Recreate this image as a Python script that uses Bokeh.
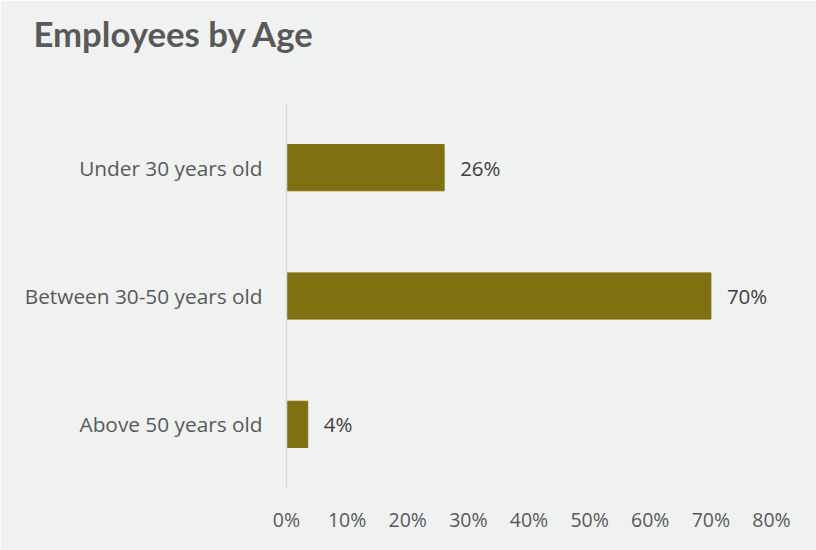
from bokeh.plotting import figure
from bokeh.models import ColumnDataSource, Range1d, FactorRange, NumeralTickFormatter, FixedTicker, Title
from bokeh.embed import file_html
from bokeh.resources import INLINE
from bokeh.core.properties import value

title_text = "Employees by Age"
categories = ["Under 30 years old", "Between 30-50 years old", "Above 50 years old"]
shares = [0.26, 0.70, 0.035]
x_ticks = [0.0, 0.1, 0.2, 0.3, 0.4, 0.5, 0.6, 0.7, 0.8]

labels = [f"{v * 100:.0f}%" for v in shares]
src = ColumnDataSource(dict(cat=categories, val=shares, lab=labels))

BG = "#F0F2F2"
TXT = "#595959"

p = figure(width=816, height=550, output_backend="svg", toolbar_location=None, title=None,
           y_range=FactorRange(*categories[::-1], range_padding=0),
           x_range=Range1d(0, 0.8),
           min_border_left=286, min_border_right=45, min_border_top=103, min_border_bottom=62)
p.background_fill_color = BG
p.border_fill_color = BG
p.outline_line_color = None

p.hbar(y="cat", right="val", left=0, height=0.36, source=src,
       fill_color="#7F7111", line_color="#7F7111")
p.text(x="val", y="cat", text="lab", source=src, x_offset=16,
       text_align="left", text_baseline="middle",
       text_font=value("Open Sans"), text_font_size="20.5px", text_color="#404040")

# spacer between the title and the plot area
p.add_layout(Title(text=" ", text_font_size="1px", standoff=37), "above")
p.add_layout(Title(text=title_text, text_font="Lato", text_font_style="bold",
                   text_font_size="34.7px", text_color=TXT, align="left",
                   offset=-253, standoff=20), "above")

p.xgrid.visible = False
p.ygrid.visible = False

p.xaxis.ticker = FixedTicker(ticks=x_ticks)
p.xaxis.formatter = NumeralTickFormatter(format="0%")
p.xaxis.axis_line_color = None
p.xaxis.major_tick_line_color = None
p.xaxis.minor_tick_line_color = None
p.xaxis.major_tick_out = 0
p.xaxis.minor_tick_out = 0
p.xaxis.major_label_standoff = 17
p.xaxis.major_label_text_font = "Open Sans"
p.xaxis.major_label_text_font_size = "19.5px"
p.xaxis.major_label_text_color = TXT

p.yaxis.axis_line_color = "#D9D9D9"
p.yaxis.axis_line_width = 1.5
p.yaxis.major_tick_line_color = None
p.yaxis.minor_tick_line_color = None
p.yaxis.major_tick_out = 0
p.yaxis.minor_tick_out = 0
p.yaxis.major_label_standoff = 24
p.yaxis.major_label_text_font = "Open Sans"
p.yaxis.major_label_text_font_size = "20.8px"
p.yaxis.major_label_text_color = TXT

open("out.html", "w").write(file_html(p, INLINE))
